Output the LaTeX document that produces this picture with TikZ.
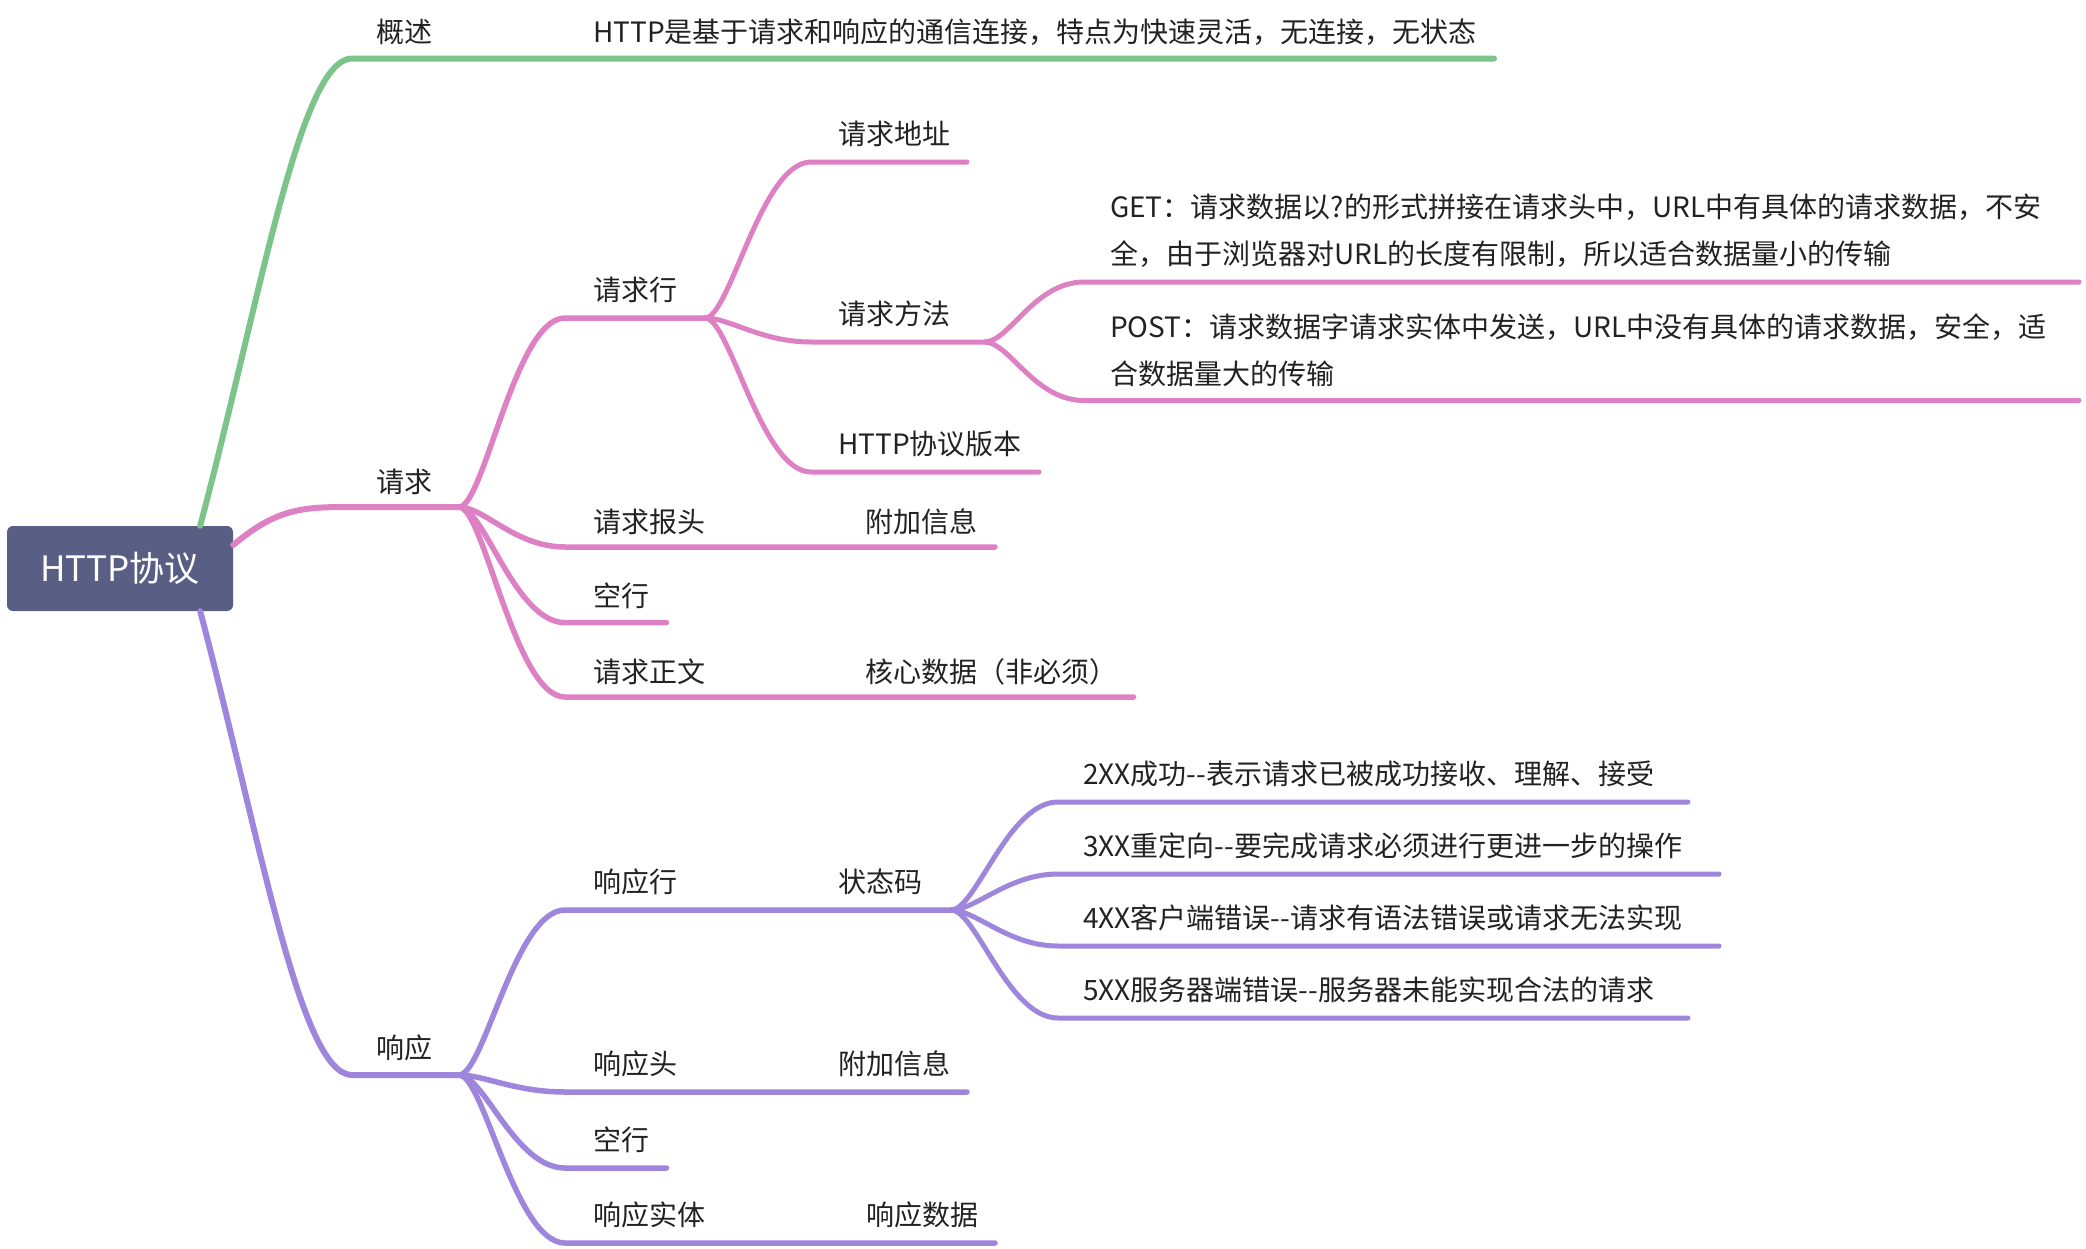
\documentclass[tikz,border=0pt]{standalone}
\usepackage{fontspec}
\setmainfont{Noto Sans CJK SC}
\usetikzlibrary{calc}
\definecolor{cGreen}{RGB}{124,196,138}
\definecolor{cPink}{RGB}{222,128,196}
\definecolor{cPurple}{RGB}{157,134,220}
\definecolor{cRoot}{RGB}{89,94,133}
\definecolor{cText}{RGB}{34,34,34}
\begin{document}
\begin{tikzpicture}[x=1pt,y=-1pt,
  txt/.style={anchor=west,inner sep=0pt,text=cText,font=\fontsize{28}{46.5}\selectfont,align=left},
  rootbox/.style={fill=cRoot,rounded corners=6pt,minimum width=226pt,minimum height=85pt,inner sep=0pt,text=white,font=\fontsize{35}{40}\selectfont},
  lvA/.style={line width=6pt,line cap=round,line join=round},
  lvB/.style={line width=5.5pt,line cap=round,line join=round},
  lvC/.style={line width=5pt,line cap=round,line join=round},
  grn/.style={draw=cGreen},
  pnk/.style={draw=cPink},
  prp/.style={draw=cPurple}]
\useasboundingbox (0,0) rectangle (2086,1248);

% root
\node[rootbox] (root) at (120,568.5) {HTTP协议};

% ---- green branch
\coordinate (gS) at ([xshift=-33pt]root.north east);
\coordinate (gH) at (352,58.5);
\coordinate (gE) at (1494,58.5);
\draw[grn,lvA] (gS) .. controls (260,300) and (300,58.5) .. (gH) -- (gE);
\node[txt] (ov) at (376.5,32) {概述};
\node[txt] (ovt) at (593,32) {HTTP是基于请求和响应的通信连接，特点为快速灵活，无连接，无状态};

% ---- pink branch
\coordinate (pS) at ([yshift=23.5pt]root.east);
\coordinate (pH) at (346,507);
\coordinate (pJ) at (459,507);
\draw[pnk,lvA] (pS) .. controls (275,510) and (300,507) .. (pH) -- (pJ);
\node[txt] (req) at (376.5,481.6) {请求};

\coordinate (rqS) at (565,318);  \coordinate (rqJ) at (705,318);
\coordinate (hdS) at (565,547);  \coordinate (hdE) at (995,547);
\coordinate (blS) at (565,622.6);\coordinate (blE) at (666.5,622.6);
\coordinate (bdS) at (565,697);  \coordinate (bdE) at (1133.5,697);
\draw[pnk,lvB] (pJ) .. controls +(25,0) and +(-50,0) .. (rqS) -- (rqJ);
\draw[pnk,lvB] (pJ) .. controls +(25,0) and +(-50,0) .. (hdS) -- (hdE);
\draw[pnk,lvB] (pJ) .. controls +(25,0) and +(-50,0) .. (blS) -- (blE);
\draw[pnk,lvB] (pJ) .. controls +(25,0) and +(-50,0) .. (bdS) -- (bdE);
\node[txt] (rqt) at (593,290) {请求行};
\node[txt] (hdt) at (593,521.5) {请求报头};
\node[txt] (hdv) at (865,521.5) {附加信息};
\node[txt] (blt) at (593,596) {空行};
\node[txt] (bdt) at (593,672) {请求正文};
\node[txt] (bdv) at (865,672) {核心数据（非必须）};

\coordinate (adS) at (811,162);  \coordinate (adE) at (967,162);
\coordinate (mS) at (811,342);   \coordinate (mJ) at (984.5,342);
\coordinate (vS) at (811,472);   \coordinate (vE) at (1039,472);
\draw[pnk,lvC] (rqJ) .. controls +(25,0) and +(-50,0) .. (adS) -- (adE);
\draw[pnk,lvC] (rqJ) .. controls +(25,0) and +(-50,0) .. (mS) -- (mJ);
\draw[pnk,lvC] (rqJ) .. controls +(25,0) and +(-50,0) .. (vS) -- (vE);
\node[txt] (adt) at (838,134) {请求地址};
\node[txt] (mt) at (838,314) {请求方法};
\node[txt] (vt) at (838,444) {HTTP协议版本};

\coordinate (getS) at (1084,282);   \coordinate (getE) at (2079,282);
\coordinate (postS) at (1084,400.5);\coordinate (postE) at (2079,400.5);
\draw[pnk,lvC] (mJ) .. controls +(25,0) and +(-50,0) .. (getS) -- (getE);
\draw[pnk,lvC] (mJ) .. controls +(25,0) and +(-50,0) .. (postS) -- (postE);
\node[txt] (gett) at (1110,230.75) {GET：请求数据以?的形式拼接在请求头中，URL中有具体的请求数据，不安\\全，由于浏览器对URL的长度有限制，所以适合数据量小的传输};
\node[txt] (postt) at (1110,350) {POST：请求数据字请求实体中发送，URL中没有具体的请求数据，安全，适\\合数据量大的传输};

% ---- purple branch
\coordinate (qS) at ([xshift=-33pt]root.south east);
\coordinate (qH) at (352,1075);
\coordinate (qJ) at (459,1075);
\draw[prp,lvA] (qS) .. controls (260,837) and (300,1075) .. (qH) -- (qJ);
\node[txt] (resp) at (376.5,1048) {响应};

\coordinate (rlS) at (565,910);  \coordinate (sJ) at (951,910);
\coordinate (rhS) at (565,1092); \coordinate (rhE) at (967,1092);
\coordinate (rbS) at (565,1168); \coordinate (rbE) at (666.5,1168);
\coordinate (reS) at (565,1243); \coordinate (reE) at (995,1243);
\draw[prp,lvB] (qJ) .. controls +(25,0) and +(-50,0) .. (rlS) -- (sJ);
\draw[prp,lvB] (qJ) .. controls +(25,0) and +(-50,0) .. (rhS) -- (rhE);
\draw[prp,lvB] (qJ) .. controls +(25,0) and +(-50,0) .. (rbS) -- (rbE);
\draw[prp,lvB] (qJ) .. controls +(25,0) and +(-50,0) .. (reS) -- (reE);
\node[txt] (rlt) at (593,882) {响应行};
\node[txt] (sct) at (838,882) {状态码};
\node[txt] (rht) at (593,1064) {响应头};
\node[txt] (rhv) at (838,1064) {附加信息};
\node[txt] (rbt) at (593,1140) {空行};
\node[txt] (ret) at (593,1215) {响应实体};
\node[txt] (rev) at (866,1215) {响应数据};

\coordinate (s2S) at (1058,802);  \coordinate (s2E) at (1688,802);
\coordinate (s3S) at (1058,874);  \coordinate (s3E) at (1719,874);
\coordinate (s4S) at (1058,946);  \coordinate (s4E) at (1719,946);
\coordinate (s5S) at (1058,1018); \coordinate (s5E) at (1688,1018);
\draw[prp,lvC] (sJ) .. controls +(25,0) and +(-50,0) .. (s2S) -- (s2E);
\draw[prp,lvC] (sJ) .. controls +(25,0) and +(-50,0) .. (s3S) -- (s3E);
\draw[prp,lvC] (sJ) .. controls +(25,0) and +(-50,0) .. (s4S) -- (s4E);
\draw[prp,lvC] (sJ) .. controls +(25,0) and +(-50,0) .. (s5S) -- (s5E);
\node[txt] (s2t) at (1083,774) {2XX成功-{}-表示请求已被成功接收、理解、接受};
\node[txt] (s3t) at (1083,846) {3XX重定向-{}-要完成请求必须进行更进一步的操作};
\node[txt] (s4t) at (1083,918) {4XX客户端错误-{}-请求有语法错误或请求无法实现};
\node[txt] (s5t) at (1083,990) {5XX服务器端错误-{}-服务器未能实现合法的请求};
\end{tikzpicture}
\end{document}
